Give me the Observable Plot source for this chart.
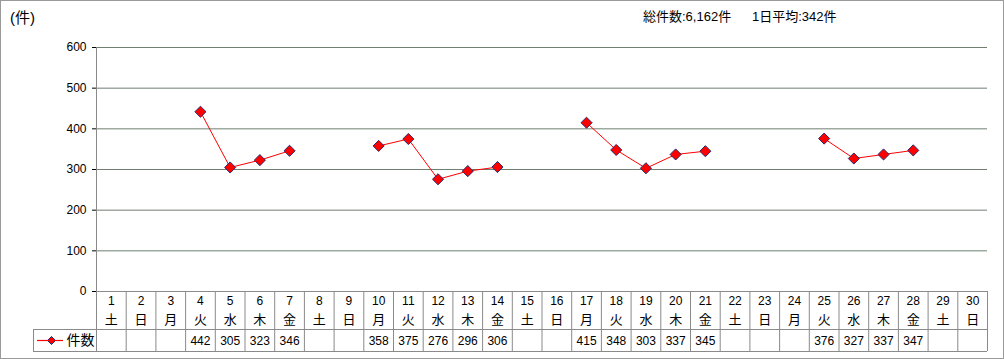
<!DOCTYPE html>
<html>
<head>
<meta charset="utf-8">
<script src="https://cdn.jsdelivr.net/npm/d3@7"></script>
<script src="https://cdn.jsdelivr.net/npm/@observablehq/plot@0.6"></script>
<style>
  html, body { margin: 0; padding: 0; background: #fff; }
  #wrap { position: relative; width: 1004px; height: 359px; font-family: "Liberation Sans", "Noto Sans CJK JP", sans-serif; }
  #frame { position: absolute; left: 0; top: 0; width: 1002px; height: 357px; border: 1px solid #9a9a9a; pointer-events: none; }
  .t { position: absolute; white-space: nowrap; color: #000; }
  svg { position: absolute; left: 0; top: 0; }
</style>
</head>
<body>
<div id="wrap">
  <div class="t" style="left:10px; top:6px; font-size:15px;">(件)</div>
  <div class="t" style="left:643px; top:6px; font-size:13px;">総件数:6,162件</div>
  <div class="t" style="left:752px; top:6px; font-size:13px;">1日平均:342件</div>
  <div id="frame"></div>
</div>
<script>
const days = d3.range(1, 31);
const weekdays = ["土","日","月","火","水","木","金","土","日","月","火","水","木","金","土","日","月","火","水","木","金","土","日","月","火","水","木","金","土","日"];
const counts = [null,null,null,442,305,323,346,null,null,358,375,276,296,306,null,null,415,348,303,337,345,null,null,null,376,327,337,347,null,null];
const yTicks = [0,100,200,300,400,500,600];
const seriesName = "件数";

const data = days.map((d, i) => ({day: d, wd: weekdays[i], v: counts[i]}));
const valued = data.filter(d => d.v != null);
const edges = d3.range(0, 31).map(k => k + 0.5);
const gridCol = "#6f7f72";
const tableCol = "#8a8a8a";

const chart = Plot.plot({
  width: 1004,
  height: 359,
  marginLeft: 96,
  marginRight: 17,
  marginTop: 47,
  marginBottom: 68,
  style: {fontFamily: '"Liberation Sans", "Noto Sans CJK JP", sans-serif', fontSize: "12px", background: "transparent", overflow: "visible"},
  x: {type: "linear", domain: [0.5, 30.5], axis: null},
  y: {domain: [0, 600], ticks: yTicks, tickSize: 4, tickPadding: 6, tickFormat: d => String(d), label: null, axis: "left"},
  marks: [
    Plot.ruleY(yTicks.filter(t => t > 0), {x1: 0.5, x2: 30.5, stroke: gridCol, strokeWidth: 1}),
    Plot.ruleY([0], {x1: 0.5, x2: 30.5, stroke: tableCol}),
    Plot.ruleY([0], {x1: 0.5, x2: 30.5, dy: 38, insetLeft: -63, stroke: tableCol}),
    Plot.ruleY([0], {x1: 0.5, x2: 30.5, dy: 60, insetLeft: -63, stroke: tableCol}),
    Plot.ruleX([0.5], {y1: 600, y2: 0, insetBottom: -60, stroke: tableCol}),
    Plot.ruleX(edges.slice(1), {y1: 0, y2: 0, insetBottom: -60, stroke: tableCol}),
    Plot.ruleX([0.5], {y1: 0, y2: 0, dx: -63, insetTop: 38, insetBottom: -60, stroke: tableCol}),
    Plot.text(data, {x: "day", y: () => 0, text: d => String(d.day), dy: 10, fontSize: 12, fill: "#000"}),
    Plot.text(data, {x: "day", y: () => 0, text: "wd", dy: 28, fontSize: 13, fill: "#000"}),
    Plot.text(valued, {x: "day", y: () => 0, text: d => String(d.v), dy: 50, fontSize: 12, fill: "#000"}),
    Plot.ruleY([0], {x1: 0.5, x2: 0.5, insetLeft: -59, insetRight: 33, dy: 49, stroke: "#ff0000", strokeWidth: 1.2}),
    Plot.dot([0], {x: () => 0.5, y: () => 0, dx: -45, dy: 49, symbol: "diamond2", r: 3.6, fill: "#ff0000", stroke: "#2a2a6a", strokeWidth: 1}),
    Plot.text([seriesName], {x: () => 0.5, y: () => 0, dx: -30, dy: 49, text: d => d, textAnchor: "start", fontSize: 14, fill: "#000"}),
    Plot.line(data, {x: "day", y: "v", stroke: "#ff0000", strokeWidth: 1}),
    Plot.dot(valued, {x: "day", y: "v", symbol: "diamond2", r: 5, fill: "#ff0000", stroke: "#2a2a6a", strokeWidth: 1})
  ]
});
document.getElementById("wrap").insertBefore(chart, document.getElementById("frame"));
</script>
</body>
</html>
